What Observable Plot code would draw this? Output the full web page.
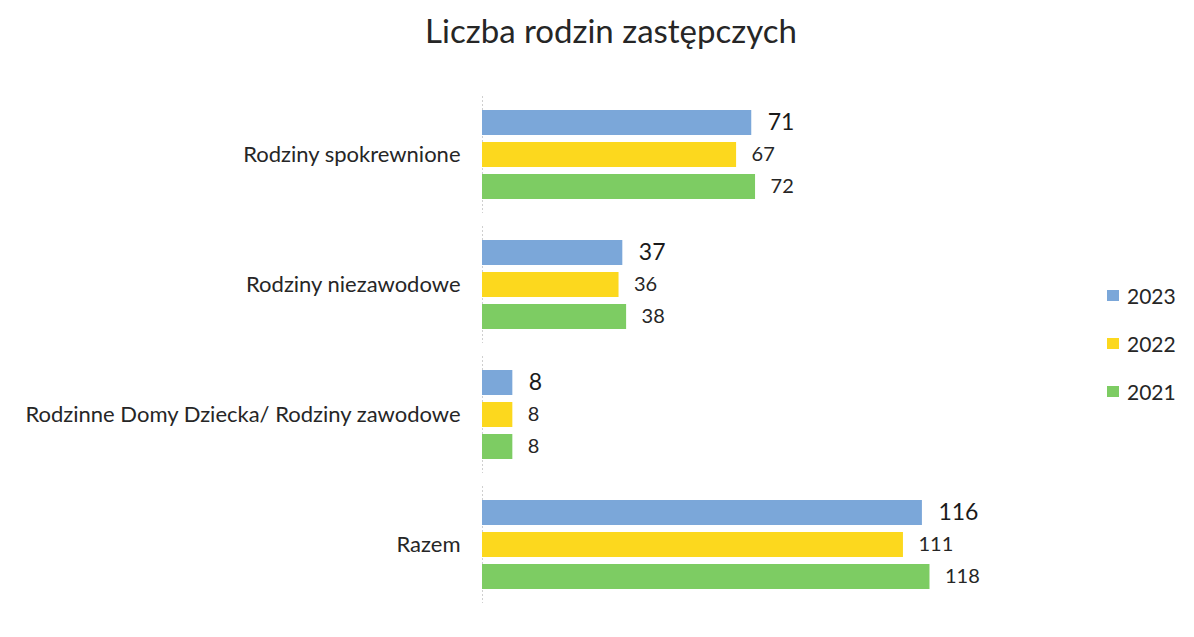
<!DOCTYPE html>
<html>
<head>
<meta charset="utf-8">
<script src="https://cdn.jsdelivr.net/npm/d3@7"></script>
<script src="https://cdn.jsdelivr.net/npm/@observablehq/plot@0.6"></script>
<style>
  html, body { margin: 0; padding: 0; background: #fff; }
  #wrap { position: relative; width: 1194px; height: 637px; font-family: Lato, "Open Sans", sans-serif; color: #262626; overflow: hidden; }
  #title { position: absolute; top: 10px; left: 611px; transform: translateX(-50%); font-size: 33px; line-height: 40px; white-space: nowrap; }
  #legend { position: absolute; left: 1107px; top: 271px; }
  .li { display: flex; align-items: center; height: 48px; font-size: 21px; }
  .sw { width: 12px; height: 11px; margin-right: 8px; }
  svg { position: absolute; left: 0; top: 0; }
</style>
</head>
<body>
<div id="wrap">
  <div id="title">Liczba rodzin zastępczych</div>
  <div id="legend"></div>
</div>
<script>
const categories = ["Rodziny spokrewnione", "Rodziny niezawodowe", "Rodzinne Domy Dziecka/ Rodziny zawodowe", "Razem"];
const years = ["2023", "2022", "2021"];
const values2023 = [71, 37, 8, 116];
const values2022 = [67, 36, 8, 111];
const values2021 = [72, 38, 8, 118];
const colors = ["#7ba7d9", "#fcd81e", "#7dcc63"];

const seriesValues = [values2023, values2022, values2021];
const data = [];
categories.forEach((c, i) => {
  years.forEach((y, j) => data.push({category: c, year: y, value: seriesValues[j][i]}));
});

const chart = Plot.plot({
  width: 1194,
  height: 637,
  marginLeft: 482,
  marginRight: 219,
  marginTop: 81,
  marginBottom: 19,
  style: {fontFamily: "Lato, 'Open Sans', sans-serif", color: "#262626", background: "transparent"},
  x: {domain: [0, 130], axis: null},
  y: {domain: years, paddingInner: 0.21, paddingOuter: 0.39, axis: null},
  fy: {domain: categories, paddingInner: 0.1, paddingOuter: 0.1, axis: null, label: null},
  color: {domain: years, range: colors},
  marks: [
    Plot.ruleX([0], {stroke: "#cfcfcf", strokeWidth: 1, strokeDasharray: "2,2"}),
    Plot.barX(data, {x: "value", y: "year", fy: "category", fill: "year"}),
    Plot.text(data.filter(d => d.year === "2023"), {x: "value", y: "year", fy: "category", text: d => String(d.value), dx: 16, textAnchor: "start", fontSize: 23, fill: "#1a1a1a"}),
    Plot.text(data.filter(d => d.year !== "2023"), {x: "value", y: "year", fy: "category", text: d => String(d.value), dx: 15, textAnchor: "start", fontSize: 20, fill: "#262626"}),
    Plot.axisFy({anchor: "left", tickSize: 0, tickPadding: 22, fontSize: 22, label: null})
  ]
});
document.getElementById("wrap").appendChild(chart);

const legend = document.getElementById("legend");
years.forEach((y, i) => {
  const row = document.createElement("div");
  row.className = "li";
  const sw = document.createElement("div");
  sw.className = "sw";
  sw.style.background = colors[i];
  const t = document.createElement("span");
  t.textContent = y;
  row.appendChild(sw);
  row.appendChild(t);
  legend.appendChild(row);
});
</script>
</body>
</html>
